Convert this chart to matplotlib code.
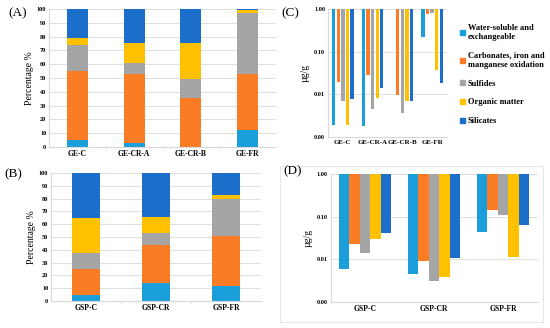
import numpy as np
import matplotlib
matplotlib.use("Agg")
import matplotlib.pyplot as plt
from matplotlib.patches import Rectangle, Patch

plt.rcParams['font.family'] = ['Liberation Serif', 'DejaVu Serif']

fractions = ["Water-soluble and\nexchangeable",
             "Carbonates, iron and\nmanganese oxidation",
             "Sulfides", "Organic matter", "Silicates"]
colors = ['#1A9FDB', '#FA7C24', '#A5A5A5', '#FFC000', '#1B6FCB']

# (A) percentage, GE samples
ge_sites = ["GE-C", "GE-CR-A", "GE-CR-B", "GE-FR"]
ge_pct = {
    "water": [5, 3, 0, 12],
    "carb": [50, 50, 35.5, 41],
    "sulf": [19, 8, 13.5, 44],
    "org": [5, 14.5, 26, 2],
    "sil": [21, 24.5, 25, 1],
}
# (B) percentage, GSP samples
gsp_sites = ["GSP-C", "GSP-CR", "GSP-FR"]
gsp_pct = {
    "water": [5, 14.5, 12],
    "carb": [20, 29, 39],
    "sulf": [12.5, 9.5, 29],
    "org": [27, 12.5, 3],
    "sil": [35.5, 34.5, 17],
}
# (C) ug/g, GE samples
ge_conc = {
    "water": [0.0019, 0.0018, np.nan, 0.22],
    "carb": [0.019, 0.028, 0.0095, 0.76],
    "sulf": [0.0071, 0.0046, 0.0036, 0.82],
    "org": [0.0019, 0.0083, 0.0071, 0.037],
    "sil": [0.0078, 0.014, 0.0071, 0.018],
}
# (D) ug/g, GSP samples
gsp_conc = {
    "water": [0.0059, 0.0046, 0.044],
    "carb": [0.023, 0.0089, 0.14],
    "sulf": [0.014, 0.0030, 0.11],
    "org": [0.030, 0.0038, 0.0113],
    "sil": [0.041, 0.0105, 0.063],
}
keys = ["water", "carb", "sulf", "org", "sil"]

fig = plt.figure(figsize=(5.5, 3.28), dpi=100)
grid_c = '#D9D9D9'


def style_axes(ax, n):
    for s in ['top', 'right']:
        ax.spines[s].set_visible(False)
    ax.spines['left'].set_color(grid_c)
    ax.spines['bottom'].set_color(grid_c)
    ax.set_axisbelow(True)
    ax.set_xlim(-0.5, n - 0.5)
    ax.tick_params(axis='both', length=0, labelsize=5.5, pad=2)
    ax.set_xticks(np.arange(n - 1) + 0.5, minor=True)
    ax.tick_params(axis='x', which='minor', length=2.5, color=grid_c)
    for lab in ax.get_xticklabels() + ax.get_yticklabels():
        lab.set_fontweight('bold')


def stacked(ax, sites, data, width):
    x = np.arange(len(sites))
    bottom = np.zeros(len(sites))
    for k, c in zip(keys, colors):
        v = np.array(data[k], dtype=float)
        ax.bar(x, v, width, bottom=bottom, color=c, zorder=2)
        bottom += v
    ax.set_ylim(0, 100)
    ax.set_yticks(np.arange(0, 101, 10))
    ax.yaxis.grid(True, color=grid_c, linewidth=0.6)
    ax.set_xticks(x)
    ax.set_xticklabels(sites)
    ax.set_ylabel("Percentage %", fontsize=7, labelpad=2)
    style_axes(ax, len(sites))
    for lab in ax.get_yticklabels():
        lab.set_fontsize(4.5)


def hanging(ax, sites, data, width, step):
    x = np.arange(len(sites))
    for i, (k, c) in enumerate(zip(keys, colors)):
        v = np.array(data[k], dtype=float)
        ax.bar(x + (i - 2) * step, 1 - v, width, bottom=v, color=c, zorder=2)
    ax.set_yscale('log')
    ax.set_ylim(0.001, 1)
    ax.set_yticks([0.001, 0.01, 0.1, 1])
    ax.set_yticklabels(["0.00", "0.01", "0.10", "1.00"])
    ax.yaxis.set_minor_locator(matplotlib.ticker.NullLocator())
    ax.yaxis.grid(True, color=grid_c, linewidth=0.6)
    ax.set_xticks(x)
    ax.set_xticklabels(sites)
    ax.set_ylabel("µg/g", fontsize=7, labelpad=3)
    style_axes(ax, len(sites))
    ax.tick_params(axis='x', which='minor', length=0)
    for lab in ax.get_yticklabels():
        lab.set_fontsize(4.5)


axA = fig.add_axes([49 / 550, 0.552, 227 / 550, 0.4206])
stacked(axA, ge_sites, ge_pct, 0.37)
axB = fig.add_axes([51 / 550, 0.082, 210 / 550, 0.3906])
stacked(axB, gsp_sites, gsp_pct, 0.39)
axC = fig.add_axes([328 / 550, 0.582, 119 / 550, 0.3906])
hanging(axC, ge_sites, ge_conc, 0.11, 0.155)
axC.tick_params(axis='x', labelsize=5)
axD = fig.add_axes([330.5 / 550, 0.080, 207 / 550, 0.3895])
hanging(axD, gsp_sites, gsp_conc, 0.152, 0.152)

fig.text(0.016, 0.958, "(A)", fontsize=9.5, va='center')
fig.text(0.008, 0.470, "(B)", fontsize=9.5, va='center')
fig.text(0.512, 0.958, "(C)", fontsize=9.5, va='center')
fig.text(0.516, 0.478, "(D)", fontsize=9.5, va='center')

handles = [Patch(color=c) for c in colors]
leg = fig.legend(handles, fractions, loc='upper left',
                 bbox_to_anchor=(452 / 550, 1 - 16 / 328), frameon=False,
                 prop={'size': 6, 'weight': 'bold'}, handlelength=0.6,
                 handleheight=0.6, handletextpad=0.4, labelspacing=1.3)

fig.patches.append(Rectangle((280 / 550, 6 / 328), 263 / 550, 156 / 328,
                             transform=fig.transFigure, fill=False,
                             edgecolor='#E6E6E6', linewidth=0.8))

fig.savefig("out.png", dpi=100)
